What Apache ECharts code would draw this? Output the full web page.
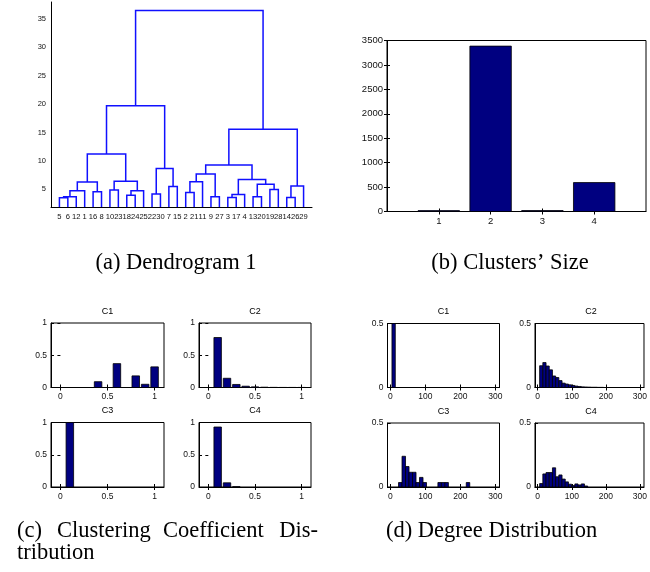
<!DOCTYPE html>
<html>
<head>
<meta charset="utf-8">
<script src="https://cdn.jsdelivr.net/npm/echarts@6/dist/echarts.min.js"></script>
<style>
html, body { margin: 0; padding: 0; background: #fff; }
#main { width: 650px; height: 572px; }
</style>
</head>
<body>
<div id="main"></div>
<script>
// ---- (a) dendrogram: leaf order on the axis, merges as [childA, childB, height]
// leaves are ids 1..30, merge k creates cluster id 31+k
var leafOrder = [5, 6, 12, 1, 16, 8, 10, 23, 18, 24, 25, 22, 30, 7, 15, 2, 21, 11, 9, 27, 3, 17, 4, 13, 20, 19, 28, 14, 26, 29];
var merges = [
  [5, 6, 3.5], [31, 12, 3.68], [32, 1, 4.75], [16, 8, 4.55], [33, 34, 6.3],
  [10, 23, 4.88], [18, 24, 3.95], [37, 25, 4.75], [36, 38, 6.4], [35, 39, 11.2],
  [22, 30, 4.17], [7, 15, 5.5], [41, 42, 8.65], [40, 43, 19.7],
  [2, 21, 4.42], [45, 11, 6.33], [9, 27, 3.7], [46, 47, 7.7],
  [3, 17, 3.57], [49, 4, 4.07], [13, 20, 3.7], [19, 28, 4.97], [51, 52, 5.88],
  [50, 53, 6.72], [48, 54, 9.3], [14, 26, 3.55], [56, 29, 5.58], [55, 57, 15.6],
  [44, 58, 36.5]
];
var dendroYTicks = [5, 10, 15, 20, 25, 30, 35];

// ---- (b) clusters' size
var clusterIds = [1, 2, 3, 4];
var clusterSizes = [18, 3385, 20, 592];
var sizeTicks = [0, 500, 1000, 1500, 2000, 2500, 3000, 3500];

// ---- (c) clustering coefficient distribution
var ccBins = [0, 0.1, 0.2, 0.3, 0.4, 0.5, 0.6, 0.7, 0.8, 0.9, 1.0];
var ccC1 = [0, 0, 0, 0, 0.09, 0, 0.37, 0, 0.18, 0.05, 0.32];
var ccC2 = [0, 0.775, 0.143, 0.047, 0.02, 0.01, 0.005, 0.002, 0.001, 0.001, 0.001];
var ccC3 = [0, 1, 0, 0, 0, 0, 0, 0, 0, 0, 0];
var ccC4 = [0, 0.93, 0.065, 0.004, 0, 0, 0, 0, 0, 0, 0];
var ccXTicks = [0, 0.5, 1];
var ccYTicks = [0, 0.5, 1];

// ---- (d) degree distribution
var degC1Bins = [9.5];
var degC1 = [1];
var degC2Bins = [10.3, 19.7, 29.1, 38.5, 47.9, 57.3, 66.7, 76.1, 85.5, 94.9, 104.3, 113.7, 123.1, 132.5, 141.9, 151.3, 160.7, 170.1, 179.5, 188.9];
var degC2 = [0.17, 0.195, 0.168, 0.138, 0.09, 0.078, 0.054, 0.034, 0.027, 0.021, 0.016, 0.011, 0.008, 0.005, 0.004, 0.003, 0.002, 0.002, 0.001, 0.001];
var degC3Bins = [28.5, 38.5, 48.5, 58.5, 68.5, 78.5, 88.5, 98.5, 141, 151, 161, 222];
var degC3 = [0.035, 0.24, 0.16, 0.115, 0.115, 0.035, 0.075, 0.035, 0.035, 0.035, 0.035, 0.035];
var degC4Bins = [10.3, 19.7, 29.1, 38.5, 47.9, 57.3, 66.7, 76.1, 85.5, 94.9, 104.3, 113.7, 123.1, 132.5, 141.9];
var degC4 = [0.027, 0.102, 0.113, 0.113, 0.15, 0.08, 0.094, 0.062, 0.04, 0.022, 0.011, 0.024, 0.016, 0.024, 0.008];
var degXTicks = [0, 100, 200, 300];
var degYTicks = [0, 0.5];

var NAVY = '#000080';
var SANS = '"Liberation Sans", Arial, Helvetica, sans-serif';
var SERIF = '"Liberation Serif", "Times New Roman", serif';

var grids = [], xAxes = [], yAxes = [], series = [], graphics = [];

function zip(a, b) {
  return a.map(function (v, i) { return [v, b[i]]; });
}
function plain(v) { return String(v); }

// one plot area; returns indices of the main x/y axes
function addPanel(r, o) {
  var gi = grids.length;
  grids.push({
    left: r[0], top: r[1], width: r[2], height: r[3],
    show: !!o.box, borderColor: '#000', borderWidth: 1, backgroundColor: 'transparent'
  });
  var xi = xAxes.length, yi = yAxes.length;
  xAxes.push({
    type: 'value', gridIndex: gi, position: 'bottom', min: o.xMin, max: o.xMax,
    axisLine: { show: true, onZero: false, lineStyle: { color: '#000', width: 1 } },
    axisTick: { show: o.ticks, inside: true, length: o.tickLen, customValues: o.xTicks, lineStyle: { color: '#000' } },
    axisLabel: {
      customValues: o.xTicks, formatter: o.xFmt || plain, fontSize: o.xfs || o.fs, color: '#111',
      fontFamily: SANS, margin: o.xMargin || 5, hideOverlap: false, showMinLabel: true, showMaxLabel: true
    },
    splitLine: { show: false }
  });
  yAxes.push({
    type: 'value', gridIndex: gi, position: 'left', min: o.yMin, max: o.yMax,
    axisLine: { show: true, onZero: false, lineStyle: { color: '#000', width: 1 } },
    axisTick: { show: o.ticks, inside: true, length: o.tickLen, customValues: o.yTicks, lineStyle: { color: '#000' } },
    axisLabel: {
      customValues: o.yTicks, formatter: plain, fontSize: o.fs, color: '#111',
      fontFamily: SANS, margin: o.yMargin || 4, showMinLabel: true, showMaxLabel: true
    },
    splitLine: { show: false }
  });
  if (o.box) {
    // MATLAB style inward ticks on the top and right edges
    xAxes.push({
      type: 'value', gridIndex: gi, position: 'top', min: o.xMin, max: o.xMax,
      axisLine: { show: false },
      axisTick: { show: true, inside: true, length: o.tickLen, customValues: o.xTicks, lineStyle: { color: '#000' } },
      axisLabel: { show: false }, splitLine: { show: false }
    });
    yAxes.push({
      type: 'value', gridIndex: gi, position: 'right', min: o.yMin, max: o.yMax,
      axisLine: { show: false },
      axisTick: { show: true, inside: true, length: o.tickLen, customValues: o.yTicks, lineStyle: { color: '#000' } },
      axisLabel: { show: false }, splitLine: { show: false }
    });
  }
  return { x: xi, y: yi };
}

function barItem(width) {
  return function (params, api) {
    var v = api.value(1);
    if (!v) return;
    var c = api.value(0);
    var p0 = api.coord([c - width / 2, v]);
    var p1 = api.coord([c + width / 2, 0]);
    var cs = params.coordSys;
    var shape = echarts.graphic.clipRectByRect(
      { x: p0[0], y: p0[1], width: p1[0] - p0[0], height: p1[1] - p0[1] },
      { x: cs.x, y: cs.y, width: cs.width, height: cs.height }
    );
    if (!shape) return;
    return { type: 'rect', shape: shape, style: { fill: NAVY, stroke: '#000', lineWidth: 0.8 } };
  };
}

function addHist(ax, data, width) {
  series.push({
    type: 'custom', xAxisIndex: ax.x, yAxisIndex: ax.y,
    renderItem: barItem(width), data: data, silent: true, animation: false
  });
}

function addTitle(text, x, y, size, font, align) {
  graphics.push({
    type: 'text', x: x, y: y, silent: true,
    style: { text: text, fontSize: size, fontFamily: font, fill: '#000', align: align || 'center', verticalAlign: 'middle' }
  });
}

// ---- (a) dendrogram
var dMin = 1.88, dMax = 38;
var nodeX = {}, nodeH = {};
leafOrder.forEach(function (id, i) { nodeX[id] = i + 1; nodeH[id] = dMin; });
merges.forEach(function (m, k) {
  var id = leafOrder.length + 1 + k;
  nodeX[id] = (nodeX[m[0]] + nodeX[m[1]]) / 2;
  nodeH[id] = m[2];
});
var dendroData = merges.map(function (m) {
  return [nodeX[m[0]], nodeH[m[0]], nodeX[m[1]], nodeH[m[1]], m[2]];
});
var leafTicks = leafOrder.map(function (id, i) { return i + 1; });

var axA = addPanel([51, 2, 261, 205], {
  xMin: 0, xMax: leafOrder.length + 1, yMin: dMin, yMax: dMax,
  xTicks: leafTicks, yTicks: dendroYTicks, ticks: false, tickLen: 2, fs: 7.5, xfs: 7.6,
  xFmt: function (v) { return String(leafOrder[v - 1]); }, xMargin: 6, yMargin: 5
});
series.push({
  type: 'custom', xAxisIndex: axA.x, yAxisIndex: axA.y, silent: true, animation: false,
  encode: { x: [0, 2], y: [1, 3, 4] },
  data: dendroData,
  renderItem: function (params, api) {
    var a = api.coord([api.value(0), api.value(1)]);
    var b = api.coord([api.value(0), api.value(4)]);
    var c = api.coord([api.value(2), api.value(4)]);
    var d = api.coord([api.value(2), api.value(3)]);
    return {
      type: 'polyline', shape: { points: [a, b, c, d] },
      style: { stroke: '#1010ff', lineWidth: 1.5, fill: null }
    };
  }
});

// ---- (b) clusters' size
var axB = addPanel([387, 40.5, 259, 171], {
  xMin: 0, xMax: 5, yMin: 0, yMax: 3500,
  xTicks: clusterIds, yTicks: sizeTicks, ticks: true, tickLen: 3, fs: 9.5, box: true,
  xMargin: 5, yMargin: 4
});
addHist(axB, zip(clusterIds, clusterSizes), 0.8);

// ---- (c) clustering coefficient, 2x2
var ccPanels = [
  [[51, 323, 113, 64.5], ccC1, 'C1'],
  [[199, 323, 112, 64.5], ccC2, 'C2'],
  [[51, 422.5, 113, 64.5], ccC3, 'C3'],
  [[199, 422.5, 112, 64.5], ccC4, 'C4']
];
ccPanels.forEach(function (p) {
  var ax = addPanel(p[0], {
    xMin: -0.1, xMax: 1.1, yMin: 0, yMax: 1,
    xTicks: ccXTicks, yTicks: ccYTicks, ticks: true, tickLen: 3, fs: 8.5, box: true,
    xMargin: 5, yMargin: 4
  });
  addHist(ax, zip(ccBins, p[1]), 0.08);
  addTitle(p[2], p[0][0] + p[0][2] / 2, p[0][1] - 11.5, 9, SANS);
});

// ---- (d) degree distribution, 2x2
var degPanels = [
  [[387.5, 323.5, 112, 64], degC1Bins, degC1, 9.5, 'C1'],
  [[535, 323.5, 112, 64], degC2Bins, degC2, 9.4, 'C2'],
  [[387.5, 423, 112, 64], degC3Bins, degC3, 10, 'C3'],
  [[535, 423, 112, 64], degC4Bins, degC4, 9.4, 'C4']
];
degPanels.forEach(function (p) {
  var ax = addPanel(p[0], {
    xMin: -8, xMax: 312, yMin: 0, yMax: 0.5,
    xTicks: degXTicks, yTicks: degYTicks, ticks: true, tickLen: 3, fs: 8.5, box: true,
    xMargin: 5, yMargin: 4
  });
  addHist(ax, zip(p[1], p[2]), p[3]);
  addTitle(p[4], p[0][0] + p[0][2] / 2, p[0][1] - 11.5, 9, SANS);
});

// ---- sub-figure captions (the (c) line is justified in the source)
var CAP = 22.5;
addTitle('(a) Dendrogram 1', 176, 263, CAP, SERIF);
addTitle('(b) Clusters\u2019 Size', 510, 263, CAP, SERIF);
addTitle('(c)', 17, 531, CAP, SERIF, 'left');
addTitle('Clustering', 57, 531, CAP, SERIF, 'left');
addTitle('Coefficient', 163, 531, CAP, SERIF, 'left');
addTitle('Dis-', 318, 531, CAP, SERIF, 'right');
addTitle('tribution', 17, 553, CAP, SERIF, 'left');
addTitle('(d) Degree Distribution', 386, 531, CAP, SERIF, 'left');

var chart = echarts.init(document.getElementById('main'));
chart.setOption({
  animation: false,
  backgroundColor: '#fff',
  grid: grids,
  xAxis: xAxes,
  yAxis: yAxes,
  series: series,
  graphic: graphics
});
window.onresize = function () {
  chart.resize();
};
</script>
</body>
</html>
